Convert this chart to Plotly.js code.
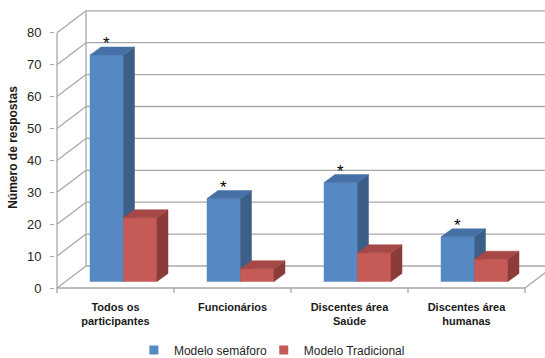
<!DOCTYPE html>
<html>
<head>
<meta charset="utf-8">
<script src="https://cdn.plot.ly/plotly-3.0.1.min.js"></script>
<style>html,body{margin:0;padding:0;background:#fff;}#chart{width:545px;height:358px;}</style>
</head>
<body>
<div id="chart"></div>
<script>
// ---- data ----
const categories = ['Todos os<br>participantes', 'Funcionários', 'Discentes área<br>Saúde', 'Discentes área<br>humanas'];
const semaforo = [71, 26, 31, 14];
const tradicional = [20, 4, 9, 7];
const marks = ['*', '*', '*', '*'];
const yTicks = [0, 10, 20, 30, 40, 50, 60, 70, 80];
const seriesNames = ['Modelo semáforo', 'Modelo Tradicional'];

// ---- geometry (pixel -> data unit conversions) ----
const PX_X = 117, PX_Y = 3.19;
const wallDx = 29 / PX_X, wallDy = 22 / PX_Y;     // back wall offset
const barSx = 8 / PX_X, barSy = 6.5 / PX_Y;       // bar front plane offset
const barW = 33.5 / PX_X;
const barDx = 11 / PX_X, barDy = 8 / PX_Y;        // bar depth
const yMax = 80;

const colors = {
  blue: {front: '#5689c4', side: '#3c5f88', top: '#4571a6'},
  red:  {front: '#c65a57', side: '#8b3c3a', top: '#a64845'}
};

function faces(values, startOffset) {
  const f = {x: [], y: []}, s = {x: [], y: []}, t = {x: [], y: []};
  values.forEach((v, i) => {
    const xl = i + barSx + startOffset, xr = xl + barW;
    const y0 = barSy, y1 = v + barSy;
    f.x.push(xl, xr, xr, xl, xl, null); f.y.push(y0, y0, y1, y1, y0, null);
    s.x.push(xr, xr + barDx, xr + barDx, xr, xr, null);
    s.y.push(y0, y0 + barDy, y1 + barDy, y1, y0, null);
    t.x.push(xl, xr, xr + barDx, xl + barDx, xl, null);
    t.y.push(y1, y1, y1 + barDy, y1 + barDy, y1, null);
  });
  return {f, s, t};
}

function faceTrace(pts, color) {
  return {type: 'scatter', mode: 'lines', x: pts.x, y: pts.y, fill: 'toself',
    fillcolor: color, line: {color: color, width: 0.5}, hoverinfo: 'skip', showlegend: false};
}

const fb = faces(semaforo, -barW);
const fr = faces(tradicional, 0);
const traces = [
  faceTrace(fb.f, colors.blue.front), faceTrace(fb.s, colors.blue.side), faceTrace(fb.t, colors.blue.top),
  faceTrace(fr.f, colors.red.front), faceTrace(fr.s, colors.red.side), faceTrace(fr.t, colors.red.top),
  {type: 'scatter', mode: 'markers', x: [null], y: [null], name: seriesNames[0], legend: 'legend',
   marker: {symbol: 'square', size: 9, color: colors.blue.front}},
  {type: 'scatter', mode: 'markers', x: [null], y: [null], name: seriesNames[1], legend: 'legend2',
   marker: {symbol: 'square', size: 9, color: colors.red.front}}
];

// ---- walls / grid ----
const gridColor = '#a8a8a8';
const shapes = [];
const L = {color: gridColor, width: 1.3};
yTicks.forEach(v => {
  shapes.push({type: 'line', xref: 'x', yref: 'y', x0: -0.5 + wallDx, x1: 5, y0: v + wallDy, y1: v + wallDy, line: L, layer: 'below'});
  shapes.push({type: 'line', xref: 'x', yref: 'y', x0: -0.5, x1: -0.5 + wallDx, y0: v, y1: v + wallDy, line: L, layer: 'below'});
});
shapes.push({type: 'line', xref: 'x', yref: 'y', x0: -0.5 + wallDx, x1: -0.5 + wallDx, y0: wallDy, y1: yMax + wallDy, line: L, layer: 'below'});
shapes.push({type: 'line', xref: 'x', yref: 'y', x0: -0.5, x1: -0.5, y0: 0, y1: yMax, line: L, layer: 'below'});
shapes.push({type: 'line', xref: 'x', yref: 'y', x0: -0.5, x1: categories.length - 0.5, y0: 0, y1: 0, line: L, layer: 'below'});
shapes.push({type: 'line', xref: 'x', yref: 'y', x0: categories.length - 0.5, x1: categories.length - 0.5 + wallDx, y0: 0, y1: wallDy, line: L, layer: 'below'});
for (let i = 0; i <= categories.length; i++) {
  shapes.push({type: 'line', xref: 'x', yref: 'paper', x0: i - 0.5, x1: i - 0.5, y0: 2 / 285, y1: -3 / 285, line: L});
}

const annotations = semaforo.map((v, i) => ({
  xref: 'x', yref: 'y', x: i + barSx - barW / 2, y: v + barSy + barDy, text: marks[i],
  showarrow: false, yanchor: 'bottom', yshift: -8, font: {size: 17, color: '#000', family: 'Liberation Sans'}
}));

const legendBase = {orientation: 'h', xanchor: 'left', yref: 'container', y: 8 / 358, yanchor: 'middle',
  font: {size: 12, color: '#262626'}, itemwidth: 30, bgcolor: 'rgba(0,0,0,0)'};

const layout = {
  width: 545, height: 358,
  margin: {l: 55, r: 0, t: 5, b: 68, autoexpand: false},
  paper_bgcolor: '#fff', plot_bgcolor: 'rgba(0,0,0,0)',
  font: {family: 'Liberation Sans, Arial, sans-serif', color: '#262626'},
  xaxis: {range: [-0.5 - 2 / PX_X, -0.5 - 2 / PX_X + 490 / PX_X], tickmode: 'array',
    tickvals: categories.map((c, i) => i), ticktext: categories, ticks: '', automargin: false,
    showgrid: false, zeroline: false, showline: false, fixedrange: true,
    tickfont: {size: 11, family: 'Liberation Sans', weight: 'bold', color: '#1a1a1a'}, ticklabelstandoff: 9},
  yaxis: {range: [-2 / PX_Y, -2 / PX_Y + 285 / PX_Y], tickmode: 'array', tickvals: yTicks, automargin: false,
    ticks: 'outside', ticklen: 4, tickcolor: gridColor, showgrid: false, zeroline: false, showline: false,
    tickfont: {size: 13, color: '#262626'}, ticklabelstandoff: 6, fixedrange: true,
    title: {text: 'Número de respostas', font: {size: 12, weight: 'bold', color: '#1a1a1a'}, standoff: 6}},
  shapes: shapes,
  annotations: annotations,
  showlegend: true,
  legend: Object.assign({}, legendBase, {x: 0.161}),
  legend2: Object.assign({}, legendBase, {x: 0.426})
};

Plotly.newPlot('chart', traces, layout, {displayModeBar: false, staticPlot: true});
</script>
</body>
</html>
